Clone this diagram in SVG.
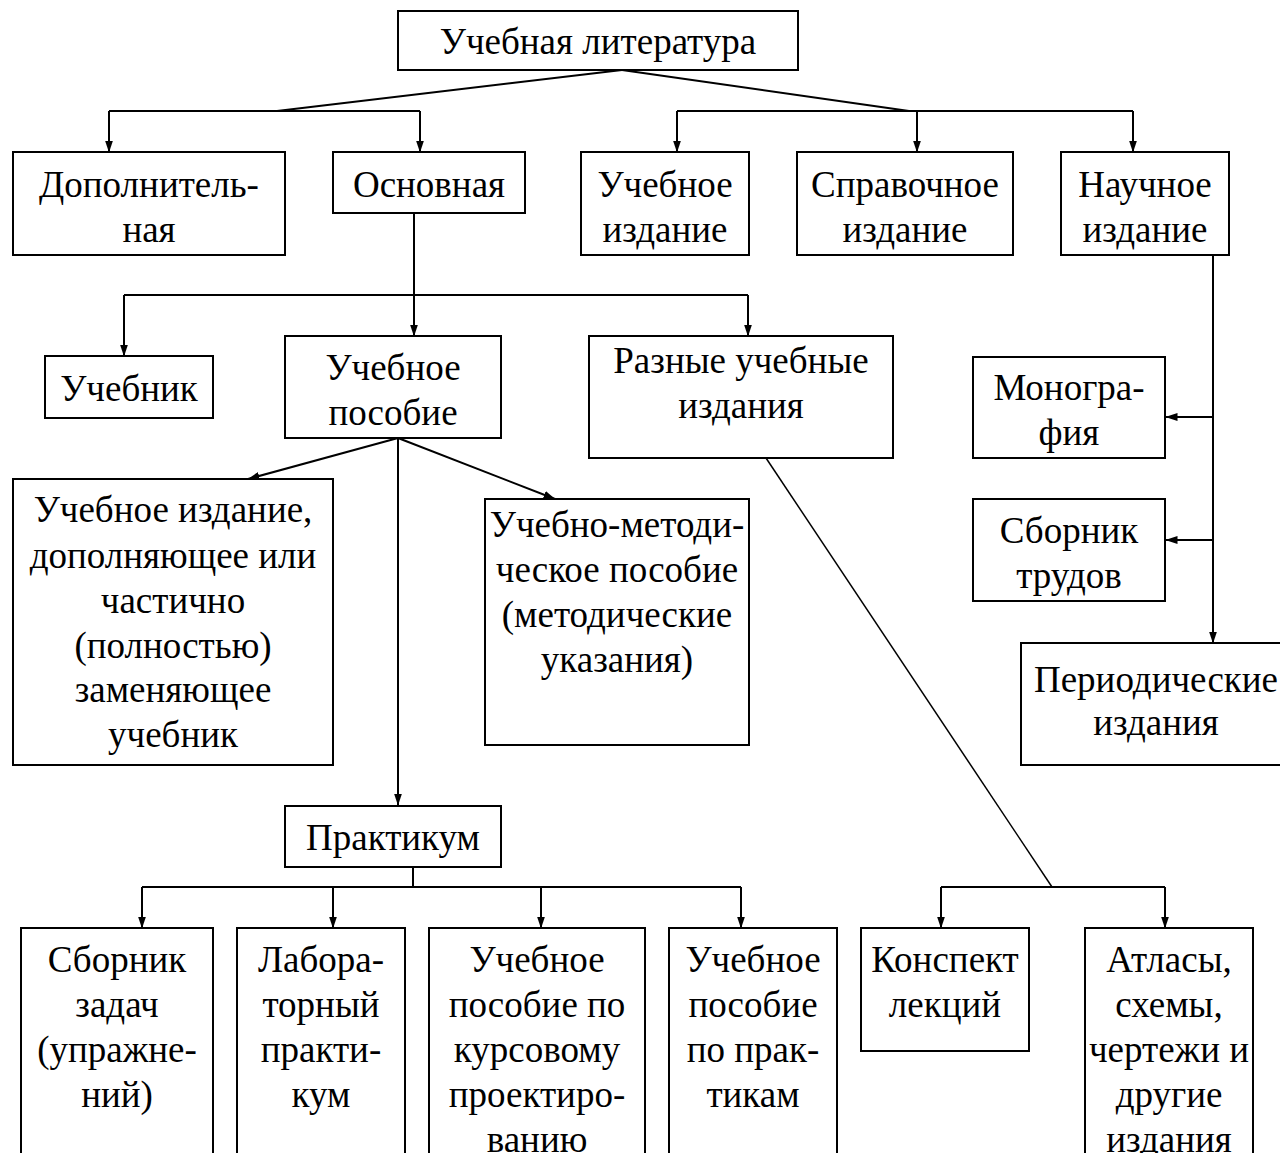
<svg xmlns="http://www.w3.org/2000/svg" width="1280" height="1153" viewBox="0 0 1280 1153">
<style>
rect{fill:#fff;stroke:#000;stroke-width:2}
text{font-family:"Liberation Serif","Times New Roman",serif;font-size:37px;fill:#000;text-anchor:middle}
.c path,.c line,.c polyline{fill:none;stroke:#000;stroke-width:2}
.c .thin{stroke-width:1.5}
</style>
<defs>
<marker id="a" markerUnits="userSpaceOnUse" markerWidth="12" markerHeight="8" refX="11.5" refY="4" orient="auto">
<path d="M0,0 L12,4 L0,8 z" fill="#000"/>
</marker>
</defs>
<rect width="1280" height="1153" style="stroke:none"/>
<g class="c" id="connectors">
<polyline points="622,70 277,111"/>
<polyline points="622,70 909,111"/>
<line x1="109" y1="111" x2="420" y2="111"/>
<line x1="109" y1="111" x2="109" y2="152" marker-end="url(#a)"/>
<line x1="420" y1="111" x2="420" y2="152" marker-end="url(#a)"/>
<line x1="677" y1="111" x2="1133" y2="111"/>
<line x1="677" y1="111" x2="677" y2="152" marker-end="url(#a)"/>
<line x1="917" y1="111" x2="917" y2="152" marker-end="url(#a)"/>
<line x1="1133" y1="111" x2="1133" y2="152" marker-end="url(#a)"/>
<line x1="414" y1="213" x2="414" y2="336" marker-end="url(#a)"/>
<line x1="124" y1="295" x2="748" y2="295"/>
<line x1="124" y1="295" x2="124" y2="356" marker-end="url(#a)"/>
<line x1="748" y1="295" x2="748" y2="336" marker-end="url(#a)"/>
<line x1="1213" y1="255" x2="1213" y2="643" marker-end="url(#a)"/>
<line x1="1213" y1="417" x2="1166" y2="417" marker-end="url(#a)"/>
<line x1="1213" y1="540" x2="1166" y2="540" marker-end="url(#a)"/>
<line x1="398" y1="438" x2="248" y2="479" marker-end="url(#a)"/>
<line x1="398" y1="438" x2="555" y2="499" marker-end="url(#a)"/>
<line x1="398" y1="438" x2="398" y2="805" marker-end="url(#a)"/>
<line class="thin" x1="766" y1="458" x2="1052" y2="887"/>
<line x1="941" y1="887" x2="1165" y2="887"/>
<line x1="941" y1="887" x2="941" y2="928" marker-end="url(#a)"/>
<line x1="1165" y1="887" x2="1165" y2="928" marker-end="url(#a)"/>
<line x1="413" y1="867" x2="413" y2="887"/>
<line x1="142" y1="887" x2="741" y2="887"/>
<line x1="142" y1="887" x2="142" y2="928" marker-end="url(#a)"/>
<line x1="333" y1="887" x2="333" y2="928" marker-end="url(#a)"/>
<line x1="541" y1="887" x2="541" y2="928" marker-end="url(#a)"/>
<line x1="741" y1="887" x2="741" y2="928" marker-end="url(#a)"/>
</g>
<g id="n-root"><rect x="398" y="11" width="400" height="59"/><text x="598" y="54">Учебная литература</text></g>
<g id="n-dop"><rect x="13" y="152" width="272" height="103"/><text x="149" y="197">Дополнитель-</text><text x="149" y="242">ная</text></g>
<g id="n-osn"><rect x="333" y="152" width="192" height="61"/><text x="429" y="197">Основная</text></g>
<g id="n-uchizd"><rect x="581" y="152" width="168" height="103"/><text x="665" y="197">Учебное</text><text x="665" y="242">издание</text></g>
<g id="n-sprav"><rect x="797" y="152" width="216" height="103"/><text x="905" y="197">Справочное</text><text x="905" y="242">издание</text></g>
<g id="n-nauch"><rect x="1061" y="152" width="168" height="103"/><text x="1145" y="197">Научное</text><text x="1145" y="242">издание</text></g>
<g id="n-uchebnik"><rect x="45" y="356" width="168" height="62"/><text x="129" y="401">Учебник</text></g>
<g id="n-posob"><rect x="285" y="336" width="216" height="102"/><text x="393" y="380">Учебное</text><text x="393" y="425">пособие</text></g>
<g id="n-raznye"><rect x="589" y="336" width="304" height="122"/><text x="741" y="373">Разные учебные</text><text x="741" y="418">издания</text></g>
<g id="n-mono"><rect x="973" y="357" width="192" height="101"/><text x="1069" y="400">Моногра-</text><text x="1069" y="445">фия</text></g>
<g id="n-sbtr"><rect x="973" y="499" width="192" height="102"/><text x="1069" y="543">Сборник</text><text x="1069" y="588">трудов</text></g>
<g id="n-period"><rect x="1021" y="643" width="280" height="122"/><text x="1156" y="692">Периодические</text><text x="1156" y="735">издания</text></g>
<g id="n-dopizd"><rect x="13" y="479" width="320" height="286"/><text x="173" y="522">Учебное издание,</text><text x="173" y="568">дополняющее или</text><text x="173" y="613">частично</text><text x="173" y="658">(полностью)</text><text x="173" y="702">заменяющее</text><text x="173" y="747">учебник</text></g>
<g id="n-metod"><rect x="485" y="499" width="264" height="246"/><text x="617" y="537">Учебно-методи-</text><text x="617" y="582">ческое пособие</text><text x="617" y="627">(методические</text><text x="617" y="672">указания)</text></g>
<g id="n-prakt"><rect x="285" y="806" width="216" height="61"/><text x="393" y="850">Практикум</text></g>
<g id="n-sbzad"><rect x="21" y="928" width="192" height="245"/><text x="117" y="972">Сборник</text><text x="117" y="1017">задач</text><text x="117" y="1062">(упражне-</text><text x="117" y="1107">ний)</text></g>
<g id="n-lab"><rect x="237" y="928" width="168" height="245"/><text x="321" y="972">Лабора-</text><text x="321" y="1017">торный</text><text x="321" y="1062">практи-</text><text x="321" y="1107">кум</text></g>
<g id="n-kurs"><rect x="429" y="928" width="216" height="245"/><text x="537" y="972">Учебное</text><text x="537" y="1017">пособие по</text><text x="537" y="1062">курсовому</text><text x="537" y="1107">проектиро-</text><text x="537" y="1152">ванию</text></g>
<g id="n-praktik"><rect x="669" y="928" width="168" height="245"/><text x="753" y="972">Учебное</text><text x="753" y="1017">пособие</text><text x="753" y="1062">по прак-</text><text x="753" y="1107">тикам</text></g>
<g id="n-konsp"><rect x="861" y="928" width="168" height="123"/><text x="945" y="972">Конспект</text><text x="945" y="1017">лекций</text></g>
<g id="n-atlas"><rect x="1085" y="928" width="168" height="245"/><text x="1169" y="972">Атласы,</text><text x="1169" y="1017">схемы,</text><text x="1169" y="1062">чертежи и</text><text x="1169" y="1107">другие</text><text x="1169" y="1152">издания</text></g>
</svg>
